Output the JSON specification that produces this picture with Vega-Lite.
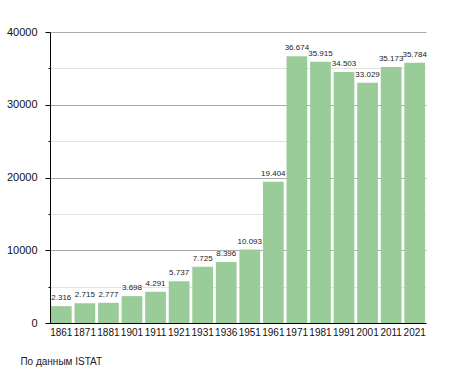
{
  "$schema": "https://vega.github.io/schema/vega-lite/v6.json",
  "width": 376,
  "height": 291,
  "autosize": {"type": "none"},
  "padding": {"left": 50, "top": 32, "right": 29, "bottom": 50},
  "background": "white",
  "config": {"view": {"stroke": null}, "font": "Liberation Sans"},
  "title": {
    "text": "По данным  ISTAT",
    "orient": "bottom",
    "anchor": "start",
    "frame": "bounds",
    "fontSize": 10,
    "fontWeight": "normal",
    "color": "#222",
    "offset": 20,
    "dx": 14
  },
  "data": {
    "values": [
      {"year": "1861", "pop": 2316, "label": "2.316"},
      {"year": "1871", "pop": 2715, "label": "2.715"},
      {"year": "1881", "pop": 2777, "label": "2.777"},
      {"year": "1901", "pop": 3698, "label": "3.698"},
      {"year": "1911", "pop": 4291, "label": "4.291"},
      {"year": "1921", "pop": 5737, "label": "5.737"},
      {"year": "1931", "pop": 7725, "label": "7.725"},
      {"year": "1936", "pop": 8396, "label": "8.396"},
      {"year": "1951", "pop": 10093, "label": "10.093"},
      {"year": "1961", "pop": 19404, "label": "19.404"},
      {"year": "1971", "pop": 36674, "label": "36.674"},
      {"year": "1981", "pop": 35915, "label": "35.915"},
      {"year": "1991", "pop": 34503, "label": "34.503"},
      {"year": "2001", "pop": 33029, "label": "33.029"},
      {"year": "2011", "pop": 35173, "label": "35.173"},
      {"year": "2021", "pop": 35784, "label": "35.784"}
    ]
  },
  "encoding": {
    "x": {
      "field": "year",
      "type": "ordinal",
      "scale": {"paddingInner": 0.12, "paddingOuter": 0.04},
      "axis": {
        "title": null,
        "labelAngle": 0,
        "labelFontSize": 10,
        "labelColor": "#111",
        "labelOverlap": false,
        "labelLimit": 0,
        "ticks": false,
        "labelPadding": 4,
        "domainColor": "#000",
        "domainWidth": 1
      }
    },
    "y": {
      "field": "pop",
      "type": "quantitative",
      "scale": {"domain": [0, 40000], "nice": false},
      "axis": {
        "title": null,
        "values": [0, 5000, 10000, 15000, 20000, 25000, 30000, 35000, 40000],
        "labelExpr": "datum.value % 10000 === 0 ? datum.value : ''",
        "labelFontSize": 11,
        "labelColor": "#111",
        "labelPadding": 8,
        "domainColor": "#000",
        "domainWidth": 1,
        "tickColor": "#000",
        "tickSize": {"condition": {"test": "datum.value % 10000 === 0", "value": 5}, "value": 2},
        "grid": true,
        "gridColor": {"condition": {"test": "datum.value % 10000 === 0", "value": "#aaaaaa"}, "value": "#e2e2e2"},
        "gridWidth": 1
      }
    }
  },
  "layer": [
    {"mark": {"type": "bar", "color": "#99cc99"}},
    {
      "mark": {"type": "text", "baseline": "bottom", "dy": -4, "fontSize": 8, "color": "#222"},
      "encoding": {"text": {"field": "label"}}
    }
  ]
}
